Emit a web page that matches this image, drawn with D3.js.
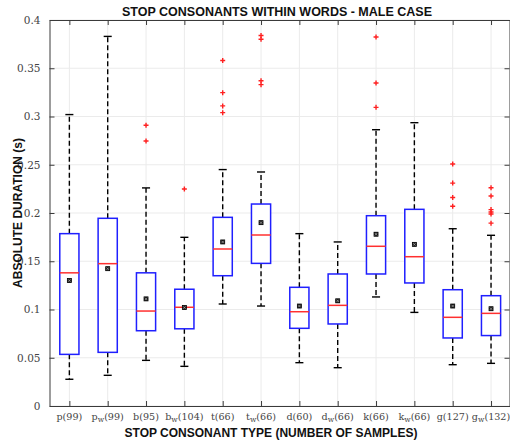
<!DOCTYPE html>
<html><head><meta charset="utf-8">
<script src="https://cdn.jsdelivr.net/npm/d3@7/dist/d3.min.js"></script>
<style>body{margin:0;background:#fff}svg{display:block}</style>
</head><body>
<svg id="c" width="510" height="444"></svg>
<script>
const consonants = ["p","p","b","b","t","t","d","d","k","k","g","g"];
const labialized = [false,true,false,true,false,true,false,true,false,true,false,true];
const counts = [99,99,95,104,66,66,60,66,66,66,127,132];
const whiskerLow  = [0.0277,0.0318,0.0473,0.0411,0.1057,0.1036,0.0449,0.0397,0.1130,0.0970,0.0428,0.0442];
const q1          = [0.0535,0.0556,0.0780,0.0800,0.1350,0.1478,0.0805,0.0850,0.1368,0.1275,0.0705,0.0730];
const medians     = [0.1380,0.1475,0.0984,0.1023,0.1627,0.1772,0.0977,0.1043,0.1655,0.1547,0.0919,0.0960];
const q3          = [0.1786,0.1945,0.1380,0.1210,0.1955,0.2093,0.1230,0.1368,0.1972,0.2038,0.1205,0.1143];
const whiskerHigh = [0.3020,0.3830,0.2260,0.1748,0.2450,0.2425,0.1786,0.1700,0.2863,0.2936,0.1837,0.1769];
const means       = [0.1300,0.1423,0.1110,0.1020,0.1700,0.1900,0.1036,0.1090,0.1780,0.1675,0.1036,0.1008];
const outliers = [
  [],
  [],
  [0.2910,0.2746],
  [0.2249],
  [0.3580,0.3247,0.3110,0.3040],
  [0.3840,0.3800,0.3370,0.3330],
  [],
  [],
  [0.3824,0.3347,0.3095],
  [],
  [0.2508,0.2310,0.2160,0.2070],
  [0.2262,0.2176,0.2035,0.2010,0.1990,0.1895]
];
const yTicks = [0,0.05,0.1,0.15,0.2,0.25,0.3,0.35,0.4];
const yTickLabels = ["0","0.05","0.1","0.15","0.2","0.25","0.3","0.35","0.4"];

const svg = d3.select("#c");
const L=49.5, R=509.5, T=20, B=406;
const x = d3.scaleLinear().domain([0.5,12.5]).range([L+0.7,R+0.7]);
const y = d3.scaleLinear().domain([0,0.4]).range([B,T]);
const idx = d3.range(1,13);
const boxHalf = (x(2)-x(1))*0.25;
const capHalf = boxHalf*0.42;

// grid
const g = svg.append("g");
g.selectAll("line.gx").data(idx).join("line")
  .attr("x1",d=>x(d)).attr("x2",d=>x(d)).attr("y1",T).attr("y2",B)
  .attr("stroke","#ebebeb").attr("stroke-width",1);
g.selectAll("line.gy").data(yTicks).join("line")
  .attr("x1",L).attr("x2",R).attr("y1",d=>y(d)).attr("y2",d=>y(d))
  .attr("stroke","#ebebeb").attr("stroke-width",1);

// axes with inward ticks
const axColor="#3a3a3a";
const yAxis = d3.axisLeft(y).tickValues(yTicks).tickFormat((d,i)=>yTickLabels[i]).tickSizeInner(-5).tickSizeOuter(0).tickPadding(9);
const ya = svg.append("g").attr("transform",`translate(${L},0)`).call(yAxis);
ya.select(".domain").attr("stroke",axColor);
ya.selectAll(".tick line").attr("stroke",axColor);
ya.selectAll("text").attr("font-family","DejaVu Serif, serif").attr("font-size",10.5).attr("fill","#444");

const yR = svg.append("g").attr("transform",`translate(${R},0)`).call(d3.axisRight(y).tickValues(yTicks).tickFormat("").tickSizeInner(-5).tickSizeOuter(0));
yR.select(".domain").attr("stroke",axColor);
yR.selectAll(".tick line").attr("stroke",axColor);

const xAxis = d3.axisBottom(x).tickValues(idx).tickFormat("").tickSizeInner(-5).tickSizeOuter(0);
const xa = svg.append("g").attr("transform",`translate(0,${B})`).call(xAxis);
xa.select(".domain").attr("stroke",axColor);
xa.selectAll(".tick line").attr("stroke",axColor);
const xt = svg.append("g").attr("transform",`translate(0,${T})`).call(d3.axisTop(x).tickValues(idx).tickFormat("").tickSizeInner(-5).tickSizeOuter(0));
xt.select(".domain").attr("stroke",axColor);
xt.selectAll(".tick line").attr("stroke",axColor);

// x tick labels with subscript w
const xl = svg.append("g").selectAll("text").data(idx).join("text")
  .attr("x",d=>x(d)).attr("y",B+14).attr("text-anchor","middle")
  .attr("font-family","DejaVu Serif, serif").attr("font-size",9.6).attr("fill","#444");
xl.each(function(d){
  const t=d3.select(this), i=d-1;
  t.append("tspan").text(consonants[i]);
  if(labialized[i]) t.append("tspan").attr("dy",1.5).attr("font-size",7.5).text("w");
  t.append("tspan").attr("dy",labialized[i]?-1.5:0).text("("+counts[i]+")");
});

// boxes
const bx = svg.append("g");
idx.forEach(d=>{
  const i=d-1, cx=x(d);
  bx.append("line").attr("x1",cx).attr("x2",cx).attr("y1",y(q3[i])).attr("y2",y(whiskerHigh[i]))
    .attr("stroke","#000").attr("stroke-width",1.4).attr("stroke-dasharray","5,3");
  bx.append("line").attr("x1",cx).attr("x2",cx).attr("y1",y(q1[i])).attr("y2",y(whiskerLow[i]))
    .attr("stroke","#000").attr("stroke-width",1.4).attr("stroke-dasharray","5,3");
  [whiskerHigh[i],whiskerLow[i]].forEach(v=>{
    bx.append("line").attr("x1",cx-capHalf).attr("x2",cx+capHalf).attr("y1",y(v)).attr("y2",y(v))
      .attr("stroke","#000").attr("stroke-width",1.4);
  });
  bx.append("rect").attr("x",cx-boxHalf).attr("width",2*boxHalf)
    .attr("y",y(q3[i])).attr("height",y(q1[i])-y(q3[i]))
    .attr("fill","#fff").attr("stroke","#1f1fff").attr("stroke-width",1.5);
  bx.append("line").attr("x1",cx-boxHalf).attr("x2",cx+boxHalf).attr("y1",y(medians[i])).attr("y2",y(medians[i]))
    .attr("stroke","#ff3030").attr("stroke-width",1.5);
  const my=y(means[i]);
  bx.append("rect").attr("x",cx-2).attr("y",my-2).attr("width",4).attr("height",4)
    .attr("fill","#222").attr("stroke","#000").attr("stroke-width",0.8);
  bx.append("path").attr("d",`M${cx-1.2},${my-1.2}L${cx+1.2},${my+1.2}M${cx-1.2},${my+1.2}L${cx+1.2},${my-1.2}`)
    .attr("stroke","#bbb").attr("stroke-width",0.6);
  outliers[i].forEach(v=>{
    const oy=y(v);
    bx.append("path").attr("d",`M${cx-2.5},${oy}L${cx+2.5},${oy}M${cx},${oy-2.5}L${cx},${oy+2.5}`)
      .attr("stroke","#ff2020").attr("stroke-width",1.4);
  });
});

// titles
svg.append("text").attr("x",277).attr("y",16).attr("text-anchor","middle")
  .attr("font-family","Liberation Sans, Arial, sans-serif").attr("font-weight","bold").attr("font-size",12.5)
  .attr("fill","#111").text("STOP CONSONANTS WITHIN WORDS - MALE CASE");
svg.append("text").attr("x",271).attr("y",437).attr("text-anchor","middle")
  .attr("font-family","Liberation Sans, Arial, sans-serif").attr("font-weight","bold").attr("font-size",12)
  .attr("fill","#111").text("STOP CONSONANT TYPE (NUMBER OF SAMPLES)");
svg.append("text").attr("transform","translate(22,213) rotate(-90)").attr("text-anchor","middle")
  .attr("font-family","Liberation Sans, Arial, sans-serif").attr("font-weight","bold").attr("font-size",12)
  .attr("fill","#111").text("ABSOLUTE DURATION (s)");
</script>
</body></html>
